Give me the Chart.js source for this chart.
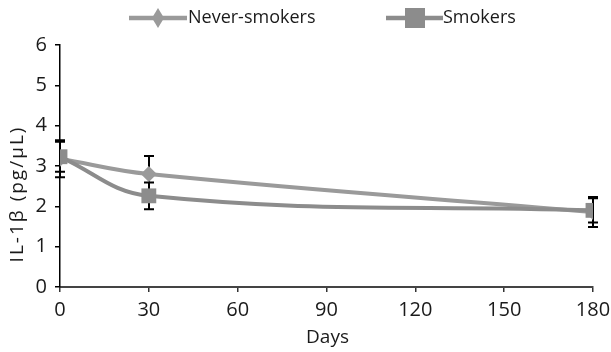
<!DOCTYPE html>
<html>
<head>
<meta charset="utf-8">
<script src="https://cdn.jsdelivr.net/npm/chart.js@4/dist/chart.umd.min.js"></script>
<style>
html,body{margin:0;padding:0;background:#fff;}
#wrap{width:611px;height:352px;position:relative;}
</style>
</head>
<body>
<div id="wrap"><canvas id="c" width="611" height="352"></canvas></div>
<script>
// ---- data ----
const days = [0, 30, 180];
const neverSmokers = [3.18, 2.80, 1.86];
const neverSmokersErr = [0.46, 0.45, 0.37];
const smokers = [3.23, 2.26, 1.90];
const smokersErr = [0.37, 0.33, 0.30];
const xTicks = [0, 30, 60, 90, 120, 150, 180];
const yTicks = [0, 1, 2, 3, 4, 5, 6];
const seriesNames = ["Never-smokers", "Smokers"];
const xTitle = "Days";
const yTitle = "IL-1β (pg/μL)";

const FONT = "'Open Sans'";
const neverColor = "#9a9a9a";
const smokColor = "#8c8c8c";
const textColor = "#1a1a1a";

const toPts = (ys) => days.map((d, i) => ({x: d, y: ys[i]}));

const errorBars = {
  id: "errorBars",
  beforeDatasetsDraw(chart) {
    const ctx = chart.ctx, xs = chart.scales.x, ys = chart.scales.y;
    const errs = [neverSmokersErr, smokersErr];
    const vals = [neverSmokers, smokers];
    ctx.save();
    ctx.strokeStyle = "#000";
    ctx.lineWidth = 2;
    errs.forEach((e, k) => {
      days.forEach((d, i) => {
        const px = Math.round(xs.getPixelForValue(d));
        const top = ys.getPixelForValue(vals[k][i] + e[i]);
        const bot = ys.getPixelForValue(vals[k][i] - e[i]);
        ctx.beginPath();
        ctx.moveTo(px, top); ctx.lineTo(px, bot);
        ctx.moveTo(px - 5, top); ctx.lineTo(px + 5, top);
        ctx.moveTo(px - 5, bot); ctx.lineTo(px + 5, bot);
        ctx.stroke();
      });
    });
    ctx.restore();
  },
  afterDraw(chart) {
    const ctx = chart.ctx, ca = chart.chartArea;
    ctx.save();
    // axis titles
    ctx.fillStyle = textColor;
    ctx.font = "19px " + FONT;
    ctx.textAlign = "center";
    ctx.textBaseline = "middle";
    ctx.fillText(xTitle, (ca.left + ca.right) / 2 + 1, 338);
    ctx.translate(18, 194);
    ctx.rotate(-Math.PI / 2);
    ctx.letterSpacing = "2px";
    ctx.fillText(yTitle, 0, 0);
    ctx.letterSpacing = "0px";
    ctx.restore();
    // legend
    ctx.save();
    const ly = 18;
    ctx.lineWidth = 4.5;
    ctx.strokeStyle = neverColor;
    ctx.beginPath(); ctx.moveTo(129, ly); ctx.lineTo(187, ly); ctx.stroke();
    ctx.fillStyle = neverColor;
    ctx.beginPath();
    ctx.moveTo(158, ly - 10); ctx.lineTo(164, ly); ctx.lineTo(158, ly + 10); ctx.lineTo(152, ly);
    ctx.closePath(); ctx.fill();
    ctx.strokeStyle = smokColor;
    ctx.beginPath(); ctx.moveTo(386, ly); ctx.lineTo(443, ly); ctx.stroke();
    ctx.fillStyle = smokColor;
    ctx.fillRect(405, ly - 10, 20, 20);
    ctx.fillStyle = textColor;
    ctx.font = "18px " + FONT;
    ctx.textAlign = "left";
    ctx.textBaseline = "middle";
    ctx.fillText(seriesNames[0], 188, ly);
    ctx.fillText(seriesNames[1], 443, ly);
    ctx.restore();
  }
};

new Chart(document.getElementById("c"), {
  type: "line",
  data: {
    datasets: [
      {
        label: seriesNames[0],
        data: toPts(neverSmokers),
        borderColor: neverColor,
        backgroundColor: neverColor,
        borderWidth: 4,
        pointStyle: "rectRot",
        pointRadius: 8,
        pointBorderWidth: 0,
        tension: 0.4,
        order: 1
      },
      {
        label: seriesNames[1],
        data: toPts(smokers),
        borderColor: smokColor,
        backgroundColor: smokColor,
        borderWidth: 4,
        pointStyle: "rect",
        pointRadius: 10.5,
        pointBorderWidth: 0,
        tension: 0.4,
        order: 0
      }
    ]
  },
  options: {
    responsive: false,
    animation: false,
    events: [],
    layout: {padding: {top: 45, right: 18, left: 0, bottom: 0}},
    plugins: {legend: {display: false}, tooltip: {enabled: false}},
    scales: {
      x: {
        type: "linear",
        min: 0, max: 180,
        afterBuildTicks: (s) => { s.ticks = xTicks.map(v => ({value: v})); },
        afterFit: (s) => { s.height = 65; s.paddingRight = 0; s.paddingLeft = 0; },
        grid: {drawOnChartArea: false, drawTicks: true, tickLength: 5, color: "#333", lineWidth: 1.5},
        border: {color: "#444", width: 2},
        ticks: {color: textColor, font: {family: FONT, size: 20}, padding: 6, maxRotation: 0}
      },
      y: {
        min: 0, max: 6,
        afterBuildTicks: (s) => { s.ticks = yTicks.map(v => ({value: v})); },
        afterFit: (s) => { s.width = 60; },
        grid: {drawOnChartArea: false, drawTicks: true, tickLength: 5, color: "#000", lineWidth: 1.5},
        border: {color: "#000", width: 1.5},
        ticks: {color: textColor, font: {family: FONT, size: 20}, padding: 8}
      }
    }
  },
  plugins: [errorBars]
});
</script>
</body>
</html>
